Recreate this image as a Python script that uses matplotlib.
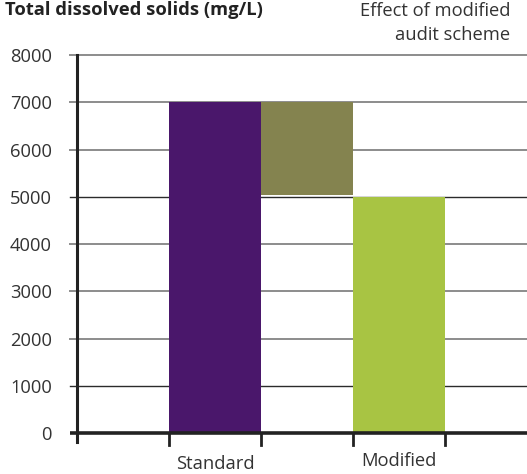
import matplotlib
matplotlib.use("Agg")
import matplotlib.pyplot as plt

categories = ["Standard", "Modified"]
standard_value = 7000
modified_value = 5000
effect_bottom = 5040
effect_top = 7000
yticks = [0, 1000, 2000, 3000, 4000, 5000, 6000, 7000, 8000]

plt.rcParams['font.family'] = ['Open Sans', 'DejaVu Sans']
FS = 13.2

fig = plt.figure(figsize=(5.27, 4.74), dpi=100)
ax = fig.add_axes([77/527, (474-442)/474, 1 - 77/527 + 0.01, (442-55)/474])

ax.set_xlim(0, 4.95)
ax.set_ylim(-190, 8000)

# gridlines
for v in yticks[1:]:
    dark = v in (5000, 1000)
    ax.plot([-0.08, 5], [v, v], color="#2b2b2b" if dark else "#8c8c8c",
            lw=1.0 if dark else 1.4, clip_on=False, zorder=1)

ax.bar([1], [standard_value], width=1.0, align='edge', color="#4a176b", zorder=3)
ax.bar([2], [effect_top - effect_bottom], bottom=[effect_bottom], width=1.0,
       align='edge', color="#84834f", zorder=3)
ax.bar([3], [modified_value], width=1.0, align='edge', color="#a8c443", zorder=3)

for s in ["top", "right", "bottom"]:
    ax.spines[s].set_visible(False)
ax.spines["left"].set_linewidth(2.2)
ax.spines["left"].set_color("#222222")
ax.spines["left"].set_bounds(-190, 8000)

# baseline
ax.plot([-0.08, 5], [0, 0], color="#222222", lw=2.6, clip_on=False, zorder=4,
        solid_capstyle='butt')
for x in [1, 2, 3, 4]:
    ax.plot([x, x], [0, -250], color="#222222", lw=2.0, clip_on=False, zorder=4)

ax.set_xticks([])
ax.set_yticks(yticks)
ax.tick_params(axis='y', length=0, pad=18, labelsize=FS, labelcolor="#333333")
ax.set_yticklabels([str(v) for v in yticks])

ax.text(1.5, -660, categories[0], ha='center', va='center', fontsize=FS, color="#333333")
ax.text(3.5, -600, categories[1], ha='center', va='center', fontsize=FS, color="#333333")

fig.text(5/527, 1 - 1/474, "Total dissolved solids (mg/L)", ha='left', va='top',
         fontsize=FS, fontweight='bold', color="#222222")
fig.text(510/527, 1 - 2/474, "Effect of modified\naudit scheme", ha='right', va='top',
         fontsize=FS, color="#333333", multialignment='right', linespacing=1.4)

fig.savefig("out.png", dpi=100)
